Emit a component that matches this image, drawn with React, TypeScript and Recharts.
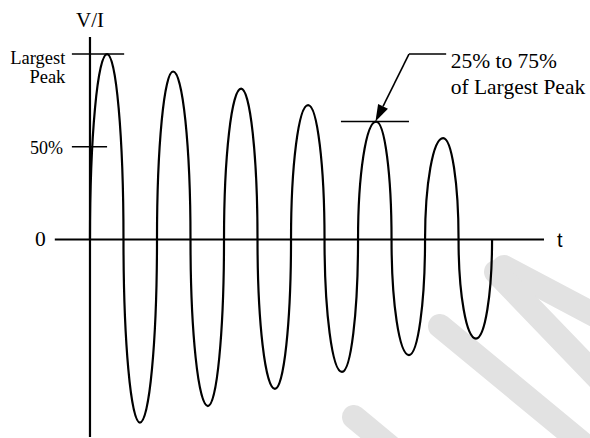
import { LineChart, Line, XAxis, YAxis, ReferenceLine } from "recharts";

/* ── waveform (t in half-periods, value in % of largest peak) ── */
const crossingTimes = [0, 1, 2, 3, 4, 5, 6, 7, 8, 9, 10, 11, 12];
const extremumTimes = [0.51, 1.49, 2.48, 3.52, 4.51, 5.52, 6.51, 7.52, 8.54, 9.52, 10.54, 11.52];
const extremumValues = [100, -98.7, 90.6, -89.8, 81.4, -80.6, 72.5, -71.4, 63.6, -62.3, 54.7, -53.4];

const LARGEST_PEAK = 100;
const HALF_PEAK = 50;
const MARKED_PEAK = 8; // index of the peak the arrow points at

const SERIF = '"Liberation Serif", "Times New Roman", serif';
const SANS = '"Liberation Sans", Arial, sans-serif';

const waveData = crossingTimes.flatMap((t, i) =>
  i < extremumTimes.length
    ? [
        { t, v: 0 },
        { t: extremumTimes[i], v: extremumValues[i] },
      ]
    : [{ t, v: 0 }]
);

// quarter-ellipse segments: upright at the zero crossings, flat at the peaks
const K = 0.5523;
function ringCurve(context: any) {
  let pts: [number, number][] = [];
  return {
    areaStart() {},
    areaEnd() {},
    lineStart() {
      pts = [];
    },
    point(x: number, y: number) {
      pts.push([+x, +y]);
    },
    lineEnd() {
      if (!pts.length) return;
      context.moveTo(pts[0][0], pts[0][1]);
      for (let i = 1; i < pts.length; i++) {
        const [x0, y0] = pts[i - 1];
        const [x1, y1] = pts[i];
        if (i % 2 === 1) {
          context.bezierCurveTo(x0, y0 + K * (y1 - y0), x1 - K * (x1 - x0), y1, x1, y1);
        } else {
          context.bezierCurveTo(x0 + K * (x1 - x0), y0, x1, y1 - K * (y1 - y0), x1, y1);
        }
      }
    },
  };
}

/* ── shapes for the reference lines ── */
const serifText = { fontFamily: SERIF, fill: "#000" };

function YAxisShape(p: any) {
  const top = Math.min(p.y1, p.y2);
  return (
    <g>
      <line x1={p.x1} y1={p.y1} x2={p.x2} y2={p.y2} stroke="#000" strokeWidth={2.2} />
      <text x={p.x1} y={top - 10} textAnchor="middle" style={serifText} fontSize={21}>
        V/I
      </text>
    </g>
  );
}

function XAxisShape(p: any) {
  const left = Math.min(p.x1, p.x2);
  const right = Math.max(p.x1, p.x2);
  return (
    <g>
      <line x1={p.x1} y1={p.y1} x2={p.x2} y2={p.y2} stroke="#000" strokeWidth={2.2} />
      <text x={left - 9} y={p.y1 + 6.5} textAnchor="end" style={serifText} fontSize={21.5}>
        0
      </text>
      <text x={right + 13} y={p.y1 + 7} style={{ fontFamily: SANS }} fontSize={20}>
        t
      </text>
    </g>
  );
}

function LargestShape(p: any) {
  const left = Math.min(p.x1, p.x2);
  return (
    <g>
      <line x1={p.x1} y1={p.y1} x2={p.x2} y2={p.y2} stroke="#000" strokeWidth={1.6} />
      <text textAnchor="end" style={serifText} fontSize={18.5}>
        <tspan x={left - 6.5} y={p.y1 + 10}>Largest</tspan>
        <tspan x={left - 6.5} y={p.y1 + 29}>Peak</tspan>
      </text>
    </g>
  );
}

function HalfShape(p: any) {
  const left = Math.min(p.x1, p.x2);
  return (
    <g>
      <line x1={p.x1} y1={p.y1} x2={p.x2} y2={p.y2} stroke="#000" strokeWidth={1.6} />
      <text x={left - 9} y={p.y1 + 7} textAnchor="end" style={serifText} fontSize={18}>
        50%
      </text>
    </g>
  );
}

function ArrowShape(p: any) {
  const { x1, y1, x2, y2 } = p;
  const a = Math.atan2(y2 - y1, x2 - x1);
  const len = 17;
  const half = 5.5;
  const bx = x2 - len * Math.cos(a);
  const by = y2 - len * Math.sin(a);
  const pts = [
    `${x2},${y2}`,
    `${bx + half * Math.sin(a)},${by - half * Math.cos(a)}`,
    `${bx - half * Math.sin(a)},${by + half * Math.cos(a)}`,
  ].join(" ");
  return (
    <g>
      <line x1={x1} y1={y1} x2={bx} y2={by} stroke="#000" strokeWidth={1.6} />
      <polygon points={pts} fill="#000" />
    </g>
  );
}

function LeaderShape(p: any) {
  const right = Math.max(p.x1, p.x2);
  return (
    <g>
      <line x1={p.x1} y1={p.y1} x2={p.x2} y2={p.y2} stroke="#000" strokeWidth={1.6} />
      <text style={serifText} fontSize={21.5}>
        <tspan x={right + 4.5} y={p.y1 + 13.5}>25% to 75%</tspan>
        <tspan x={right + 4.5} y={p.y1 + 39.5}>of Largest Peak</tspan>
      </text>
    </g>
  );
}

/* ── faint watermark strokes ── */
function Watermark() {
  const s = { stroke: "#e2e2e2", strokeWidth: 24, strokeLinecap: "round" as const };
  return (
    <svg width={590} height={438} style={{ position: "absolute", left: 0, top: 0 }}>
      <line x1={354} y1={417} x2={430} y2={480} {...s} />
      <line x1={440} y1={326} x2={600} y2={458} {...s} />
      <line x1={504} y1={267} x2={600} y2={318} {...s} />
      <line x1={496} y1={272} x2={600} y2={380} {...s} />
    </svg>
  );
}

export default function App() {
  const markT = extremumTimes[MARKED_PEAK];
  const markV = extremumValues[MARKED_PEAK];
  return (
    <div style={{ position: "absolute", left: 0, top: 0, width: 590, height: 438, background: "#fff" }}>
      <Watermark />
      <div style={{ position: "absolute", left: 0, top: 0 }}>
        <LineChart width={590} height={438} data={waveData} margin={{ top: 37, right: 46, bottom: 1, left: 54.8 }}>
          <XAxis type="number" dataKey="t" domain={[-1.05, 13.55]} hide allowDataOverflow />
          <YAxis type="number" domain={[-106.5, 109.2]} hide allowDataOverflow />
          <ReferenceLine x={0} shape={YAxisShape} />
          <ReferenceLine y={0} shape={XAxisShape} />
          <ReferenceLine
            segment={[
              { x: -0.54, y: LARGEST_PEAK },
              { x: 1.02, y: LARGEST_PEAK },
            ]}
            shape={LargestShape}
          />
          <ReferenceLine
            segment={[
              { x: -0.54, y: HALF_PEAK },
              { x: 0.51, y: HALF_PEAK },
            ]}
            shape={HalfShape}
          />
          <ReferenceLine
            segment={[
              { x: markT - 1.05, y: markV },
              { x: markT + 0.98, y: markV },
            ]}
            stroke="#000"
            strokeWidth={1.6}
          />
          <ReferenceLine
            segment={[
              { x: 9.52, y: LARGEST_PEAK },
              { x: markT - 0.02, y: markV },
            ]}
            shape={ArrowShape}
          />
          <ReferenceLine
            segment={[
              { x: 9.52, y: LARGEST_PEAK },
              { x: 10.63, y: LARGEST_PEAK },
            ]}
            shape={LeaderShape}
          />
          <Line
            dataKey="v"
            type={ringCurve as any}
            stroke="#000"
            strokeWidth={2.2}
            dot={false}
            isAnimationActive={false}
          />
        </LineChart>
      </div>
    </div>
  );
}
